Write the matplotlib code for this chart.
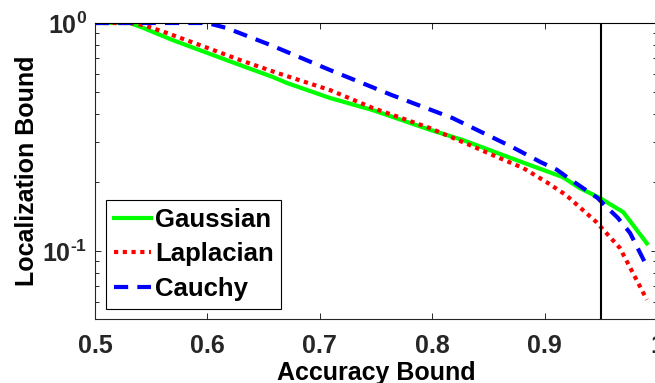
import matplotlib
matplotlib.use("Agg")
import matplotlib.pyplot as plt
from matplotlib.ticker import FixedLocator, LogLocator, NullFormatter

plt.rcParams['font.family'] = ['Liberation Sans', 'DejaVu Sans']
plt.rcParams['font.weight'] = 'bold'
plt.rcParams['mathtext.fontset'] = 'custom'
plt.rcParams['mathtext.rm'] = 'Liberation Sans:bold'
plt.rcParams['mathtext.bf'] = 'Liberation Sans:bold'
plt.rcParams['mathtext.default'] = 'bf'

# Data
gauss_x = [0.5, 0.531, 0.543, 0.569, 0.593, 0.629, 0.658, 0.671, 0.709, 0.747,
           0.798, 0.827, 0.858, 0.887, 0.916, 0.931, 0.949, 0.970, 0.991]
gauss_y = [1.0, 1.0, 0.951, 0.842, 0.761, 0.654, 0.580, 0.545, 0.469, 0.415,
           0.340, 0.307, 0.269, 0.238, 0.211, 0.189, 0.171, 0.148, 0.108]

lap_x = [0.5, 0.531, 0.543, 0.564, 0.593, 0.629, 0.662, 0.709, 0.747, 0.798,
         0.833, 0.858, 0.881, 0.902, 0.919, 0.946, 0.967, 0.991]
lap_y = [1.0, 1.0, 0.980, 0.904, 0.801, 0.688, 0.604, 0.508, 0.424, 0.346,
         0.292, 0.258, 0.231, 0.200, 0.176, 0.134, 0.103, 0.0611]

cau_x = [0.5, 0.6, 0.617, 0.656, 0.709, 0.764, 0.818, 0.871, 0.896, 0.911,
         0.921, 0.934, 0.947, 0.958, 0.965, 0.976, 0.989]
cau_y = [1.0, 1.0, 0.951, 0.801, 0.622, 0.483, 0.383, 0.286, 0.246, 0.227,
         0.209, 0.189, 0.171, 0.151, 0.140, 0.120, 0.0895]

threshold_x = 0.95
x_ticks = [0.5, 0.6, 0.7, 0.8, 0.9, 1.0]
x_tick_labels = ['0.5', '0.6', '0.7', '0.8', '0.9', '1']
y_ticks = [0.1, 1.0]
y_tick_labels = [r'$10^{\text{-}1}$', r'$10^{0}$']

fig = plt.figure(figsize=(6.55, 3.83), dpi=100)
ax = fig.add_axes([95/655, 64/383, 562/655, 296/383])

ax.plot(gauss_x, gauss_y, color='#00ff00', lw=3, label='Gaussian')
ax.plot(lap_x, lap_y, color='#ff0000', lw=3, linestyle=(0, (1, 1.1)), label='Laplacian')
l3, = ax.plot(cau_x, cau_y, color='#0000ff', lw=3, label='Cauchy', dash_capstyle='butt')
l3.set_dashes([3.4, 2.2])
ax.axvline(threshold_x, color='black', lw=1.5)

ax.set_yscale('log')
ax.set_xlim(0.5, 1.0)
ax.set_ylim(0.0503, 1.0)
ax.set_xticks(x_ticks)
ax.set_xticklabels(x_tick_labels)
ax.yaxis.set_major_locator(FixedLocator(y_ticks))
ax.set_yticklabels(y_tick_labels)
ax.yaxis.set_minor_locator(LogLocator(base=10, subs=[2, 3, 4, 5, 6, 7, 8, 9]))
ax.yaxis.set_minor_formatter(NullFormatter())

ax.tick_params(axis='both', which='both', direction='in', top=True, right=True,
               colors='#262626', labelsize=18)
ax.tick_params(axis='both', which='major', length=4.5, width=0.7)
ax.tick_params(axis='y', which='minor', length=3, width=0.7)
ax.tick_params(axis='x', which='major', pad=11)
ax.tick_params(axis='y', which='major', pad=6)
for s in ax.spines.values():
    s.set_color('#262626')
    s.set_linewidth(0.8)
ax.spines['top'].set_color('black')

ax.set_xlabel('Accuracy Bound', fontsize=18, fontweight='bold', labelpad=2)
ax.set_ylabel('Localization Bound', fontsize=18, fontweight='bold', labelpad=2)

leg = ax.legend(loc='lower left', bbox_to_anchor=(0.0196, 0.034), borderaxespad=0,
                fontsize=18.5, handlelength=1.45, handletextpad=0.15,
                labelspacing=0.42, borderpad=0.3, fancybox=False, framealpha=1,
                edgecolor='black')
leg.get_frame().set_linewidth(0.8)
for t in leg.get_texts():
    t.set_fontweight('bold')

fig.savefig('out.png', dpi=100)
